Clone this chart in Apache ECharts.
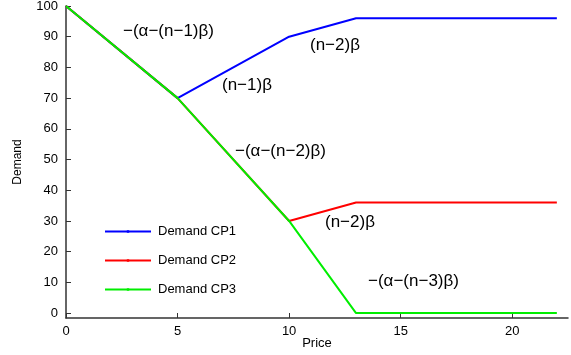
<!DOCTYPE html>
<html>
<head>
<meta charset="utf-8">
<script src="https://cdn.jsdelivr.net/npm/echarts@6/dist/echarts.min.js"></script>
<style>
  html, body { margin: 0; padding: 0; background: #fff; }
  #chart { width: 571px; height: 355px; }
</style>
</head>
<body>
<div id="chart"></div>
<script>
// price breakpoints and demand for each competitor
const prices = [0, 5, 10, 13, 22];
const demandCP1 = [100, 70, 90, 96, 96];
const demandCP2 = [100, 70, 30, 36, 36];
const demandCP3 = [100, 70, 30, 0, 0];
const xTicks = [0, 5, 10, 15, 20];
const yTicks = [0, 10, 20, 30, 40, 50, 60, 70, 80, 90, 100];

const font = 'Liberation Sans, Arial, sans-serif';

function pairs(xs, ys) {
  return xs.map((x, i) => [x, ys[i]]);
}

function lineSeries(name, color, data) {
  return {
    name: name,
    type: 'line',
    data: pairs(prices, data),
    symbol: 'rect',
    symbolSize: 3,
    showSymbol: false,
    color: color,
    lineStyle: { width: 2, color: color },
    itemStyle: { color: color },
    animation: false
  };
}

function note(text, x, y) {
  return {
    type: 'text',
    left: x,
    top: y - 10,
    style: { text: text, font: '17px ' + font, fill: '#000' }
  };
}

const myChart = echarts.init(document.getElementById('chart'));
myChart.setOption({
  animation: false,
  grid: { left: 66, right: 3, top: 6, bottom: 37, outerBoundsMode: 'none', containLabel: false },
  xAxis: {
    type: 'value',
    min: 0,
    max: 22.5,
    name: 'Price',
    nameLocation: 'middle',
    nameGap: 19,
    nameMoveOverlap: false,
    nameTextStyle: { fontFamily: font, fontSize: 13, color: '#000' },
    axisLine: { onZero: false, lineStyle: { color: '#333', width: 1.5 } },
    axisTick: { inside: true, length: 5, customValues: xTicks, lineStyle: { color: '#333' } },
    axisLabel: { customValues: xTicks, fontFamily: font, fontSize: 13, color: '#000', margin: 7 },
    splitLine: { show: false }
  },
  yAxis: {
    type: 'value',
    min: -1.6,
    max: 100,
    name: 'Demand',
    nameLocation: 'middle',
    nameGap: 42,
    nameTextStyle: { fontFamily: font, fontSize: 12, color: '#000' },
    axisLine: { show: true, onZero: false, lineStyle: { color: '#333', width: 1.5 } },
    axisTick: { show: true, inside: true, length: 5, customValues: yTicks, lineStyle: { color: '#333' } },
    axisLabel: { customValues: yTicks, fontFamily: font, fontSize: 13, color: '#000', margin: 8 },
    splitLine: { show: false }
  },
  legend: {
    orient: 'vertical',
    left: 99,
    top: 220,
    itemWidth: 46,
    itemHeight: 3,
    itemGap: 16,
    textStyle: { fontFamily: font, fontSize: 13, color: '#000', padding: [0, 0, 0, 2] },
    data: ['Demand CP1', 'Demand CP2', 'Demand CP3']
  },
  series: [
    lineSeries('Demand CP1', '#0000ff', demandCP1),
    lineSeries('Demand CP2', '#ff0000', demandCP2),
    lineSeries('Demand CP3', '#00ee00', demandCP3)
  ],
  graphic: [
    note('\u2212(\u03b1\u2212(n\u22121)\u03b2)', 123, 33),
    note('(n\u22122)\u03b2', 310, 47),
    note('(n\u22121)\u03b2', 222, 87),
    note('\u2212(\u03b1\u2212(n\u22122)\u03b2)', 235, 153),
    note('(n\u22122)\u03b2', 325, 224),
    note('\u2212(\u03b1\u2212(n\u22123)\u03b2)', 368, 283)
  ]
});
window.onresize = function () {
  myChart.resize();
};
</script>
</body>
</html>
